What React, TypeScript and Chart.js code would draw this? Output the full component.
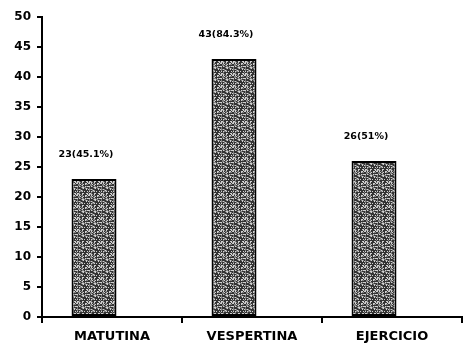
import React, { useEffect, useRef } from "react";
import { Chart, registerables } from "chart.js";

Chart.register(...registerables);

const categories = ["MATUTINA", "VESPERTINA", "EJERCICIO"];
const values = [23, 43, 26];
const valueLabels = ["23(45.1%)", "43(84.3%)", "26(51%)"];
const spacer = [null, null, null];
const yTicks = [0, 5, 10, 15, 20, 25, 30, 35, 40, 45, 50];

const FONT = "'DejaVu Sans', 'Liberation Sans', Arial, sans-serif";

function makePattern(): CanvasPattern | string {
  const c = document.createElement("canvas");
  c.width = 12;
  c.height = 12;
  const ctx = c.getContext("2d");
  if (!ctx) return "#777";
  for (let y = 0; y < 12; y++) {
    for (let x = 0; x < 12; x++) {
      const h = ((x * 73856093) ^ (y * 19349663) ^ ((x + y) * 83492791)) >>> 0;
      const v = h % 7;
      ctx.fillStyle = v < 3 ? "#333333" : v < 5 ? "#808080" : "#d0d0d0";
      ctx.fillRect(x, y, 1, 1);
    }
  }
  return ctx.createPattern(c, "repeat") || "#777";
}

const labelPlugin = {
  id: "valueLabels",
  afterDatasetsDraw(chart: any) {
    const meta = chart.getDatasetMeta(0);
    const ctx = chart.ctx;
    ctx.save();
    ctx.fillStyle = "#000";
    ctx.font = `bold 9.5px ${FONT}`;
    ctx.textAlign = "center";
    ctx.textBaseline = "middle";
    meta.data.forEach((bar: any, i: number) => {
      ctx.fillText(valueLabels[i], bar.x - 8, bar.y - 24);
    });
    ctx.restore();
  },
};

export default function App() {
  const ref = useRef<HTMLCanvasElement>(null);
  useEffect(() => {
    if (!ref.current) return;
    const pattern = makePattern();
    const chart = new Chart(ref.current, {
      type: "bar",
      data: {
        labels: categories,
        datasets: [
          {
            data: values,
            backgroundColor: pattern as any,
            borderColor: "#000",
            borderWidth: 2,
            borderSkipped: false,
            categoryPercentage: 0.514,
            barPercentage: 1.25,
          },
          {
            data: spacer as any,
            categoryPercentage: 0.514,
            barPercentage: 1.25,
          },
        ],
      },
      options: {
        animation: false,
        responsive: true,
        maintainAspectRatio: false,
        layout: { padding: { top: 17, right: 1, left: 0, bottom: 0 } },
        plugins: {
          legend: { display: false },
          tooltip: { enabled: false },
        },
        scales: {
          x: {
            offset: true,
            grid: {
              offset: true,
              drawOnChartArea: false,
              drawTicks: true,
              tickLength: 6,
              color: "#000",
              lineWidth: 2,
            },
            border: { color: "#000", width: 2 },
            ticks: {
              color: "#000",
              padding: 6,
              maxRotation: 0,
              font: { family: FONT, size: 13, weight: "bold" },
            },
            afterFit: (s: any) => {
              s.height = 32;
            },
          },
          y: {
            min: 0,
            max: 50,
            afterBuildTicks: (s: any) => {
              s.ticks = yTicks.map((v) => ({ value: v }));
            },
            grid: {
              drawOnChartArea: false,
              drawTicks: true,
              tickLength: 5,
              color: "#000",
              lineWidth: 2,
            },
            border: { color: "#000", width: 2 },
            ticks: {
              color: "#000",
              padding: 6,
              font: { family: FONT, size: 12, weight: "bold" },
            },
            afterFit: (s: any) => {
              s.width = 42;
            },
          },
        },
      },
      plugins: [labelPlugin],
    });
    return () => chart.destroy();
  }, []);
  return (
    <div style={{ position: "fixed", left: 0, top: 0, width: 463, height: 349, background: "#fff" }}>
      <canvas ref={ref} />
    </div>
  );
}
